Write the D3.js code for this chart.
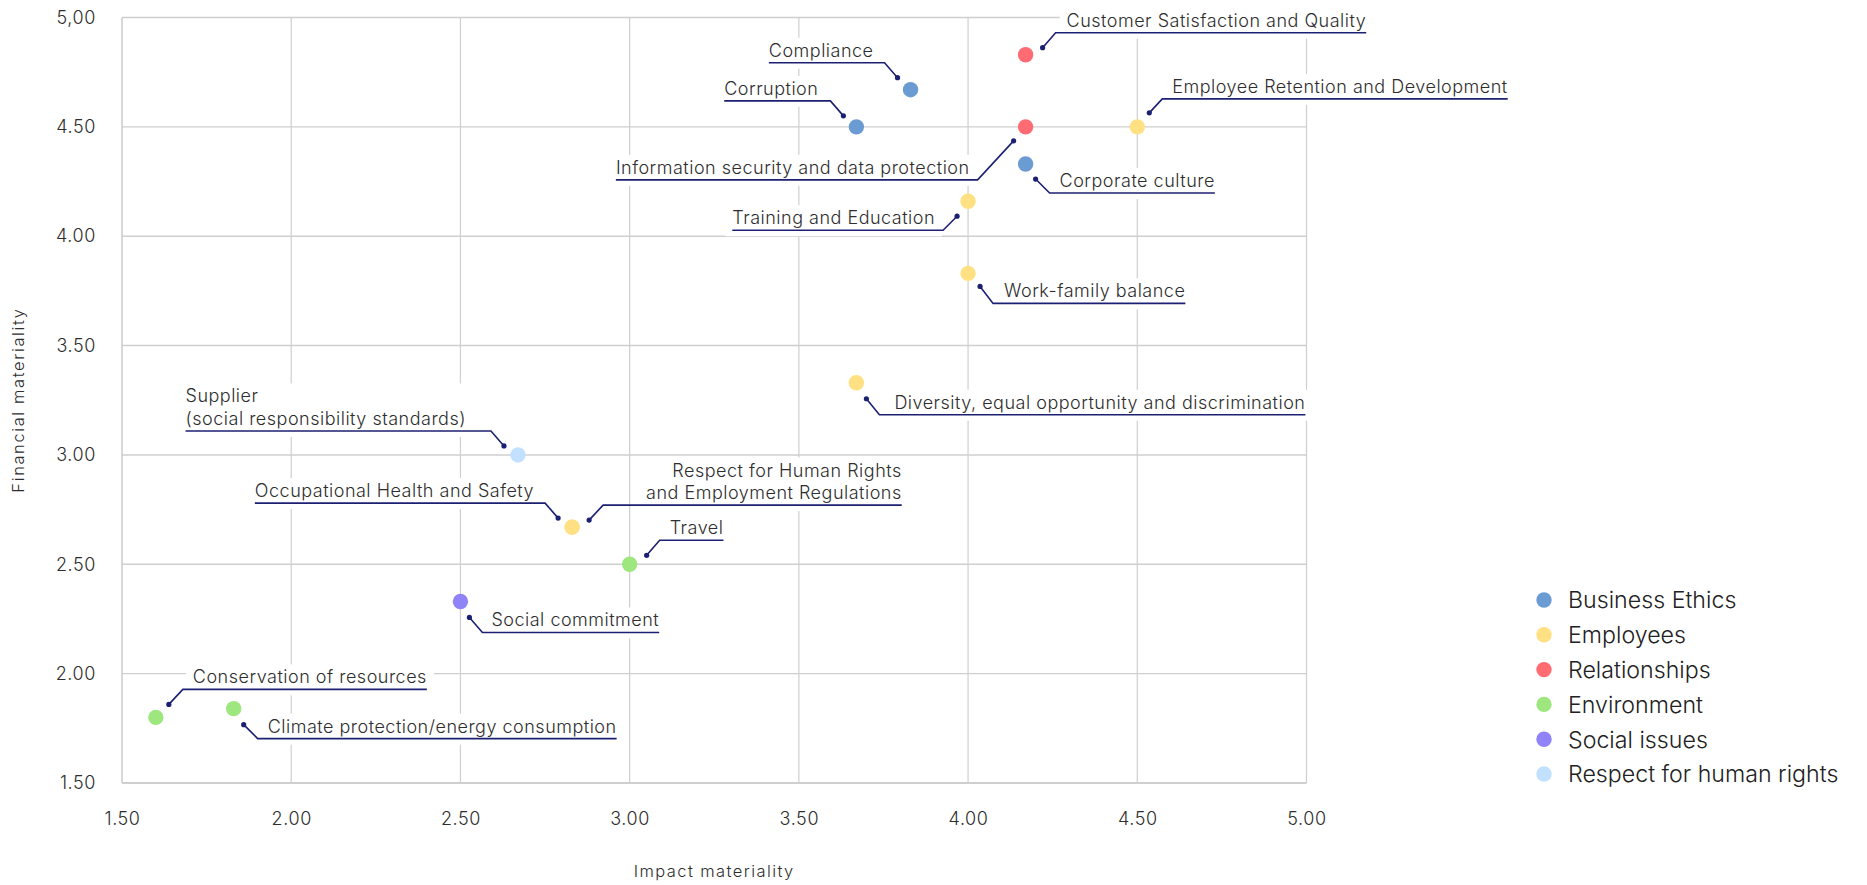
<!DOCTYPE html>
<html>
<head>
<meta charset="utf-8">
<script src="https://cdn.jsdelivr.net/npm/d3@7"></script>
<style>
  html, body { margin: 0; padding: 0; background: #fff; }
  svg text { font-family: Inter, "Noto Sans", sans-serif; font-weight: 300; }
</style>
</head>
<body>
<div id="chart"></div>
<script>
// Categories and their colours
const categories = ["Business Ethics", "Employees", "Relationships", "Environment", "Social issues", "Respect for human rights"];
const categoryColors = ["#6a9bd3", "#ffe083", "#ff6b72", "#9de77e", "#8f83f7", "#c2e0ff"];

// Material topics
const topics = [
  "Customer Satisfaction and Quality",
  "Compliance",
  "Corruption",
  "Information security and data protection",
  "Employee Retention and Development",
  "Corporate culture",
  "Training and Education",
  "Work-family balance",
  "Diversity, equal opportunity and discrimination",
  "Supplier\n(social responsibility standards)",
  "Occupational Health and Safety",
  "Respect for Human Rights\nand Employment Regulations",
  "Travel",
  "Social commitment",
  "Conservation of resources",
  "Climate protection/energy consumption"
];
const topicCategory = [
  "Relationships", "Business Ethics", "Business Ethics", "Relationships", "Employees", "Business Ethics",
  "Employees", "Employees", "Employees", "Respect for human rights", "Employees", "Employees",
  "Environment", "Social issues", "Environment", "Environment"
];
const impact    = [4.17, 3.83, 3.67, 4.17, 4.50, 4.17, 4.00, 4.00, 3.67, 2.67, 2.83, 2.83, 3.00, 2.50, 1.60, 1.83];
const financial = [4.83, 4.67, 4.50, 4.50, 4.50, 4.33, 4.16, 3.83, 3.33, 3.00, 2.67, 2.67, 2.50, 2.33, 1.80, 1.84];

// Axis ticks
const xTicks = [1.5, 2, 2.5, 3, 3.5, 4, 4.5, 5];
const xTickLabels = ["1.50", "2.00", "2.50", "3.00", "3.50", "4.00", "4.50", "5.00"];
const yTicks = [1.5, 2, 2.5, 3, 3.5, 4, 4.5, 5];
const yTickLabels = ["1.50", "2.00", "2.50", "3.00", "3.50", "4.00", "4.50", "5,00"];

// Leader layout in px, relative to the point: dot, elbow (near end of underline), side of text, gap text<->elbow
const leaders = {
  "Customer Satisfaction and Quality": { dot: [17, -7], elbow: [30, -22], side: "right", gap: 11 },
  "Compliance": { dot: [-13, -12], elbow: [-26, -27], side: "left", gap: 11 },
  "Corruption": { dot: [-13, -11], elbow: [-26, -26], side: "left", gap: 12 },
  "Information security and data protection": { dot: [-12, 14], elbow: [-48, 53], side: "left", gap: 8 },
  "Employee Retention and Development": { dot: [12, -14], elbow: [25, -28], side: "right", gap: 10 },
  "Corporate culture": { dot: [10, 15], elbow: [24, 29], side: "right", gap: 10 },
  "Training and Education": { dot: [-11, 15], elbow: [-25, 29], side: "left", gap: 8 },
  "Work-family balance": { dot: [12, 13], elbow: [25, 30], side: "right", gap: 11 },
  "Diversity, equal opportunity and discrimination": { dot: [10, 16], elbow: [23, 32], side: "right", gap: 15 },
  "Supplier\n(social responsibility standards)": { dot: [-14, -9], elbow: [-27, -24], side: "left", gap: 25 },
  "Occupational Health and Safety": { dot: [-14, -9], elbow: [-27, -24], side: "left", gap: 11 },
  "Respect for Human Rights\nand Employment Regulations": { dot: [17, -7], elbow: [31, -22], side: "right", gap: 43 },
  "Travel": { dot: [17, -9], elbow: [30, -24], side: "right", gap: 10 },
  "Social commitment": { dot: [9, 16], elbow: [22, 31], side: "right", gap: 9 },
  "Conservation of resources": { dot: [13, -13], elbow: [27, -28], side: "right", gap: 10 },
  "Climate protection/energy consumption": { dot: [10, 16], elbow: [24, 30], side: "right", gap: 10 }
};

const W = 1867, H = 885;
const plot = { left: 122, right: 1306.5, top: 17.5, bottom: 783 };
const ink = "#2e2e2e";
const navy = "#1c2072";
const gridColor = "#cfcfcf";

const x = d3.scaleLinear().domain([1.5, 5]).range([plot.left, plot.right]);
const y = d3.scaleLinear().domain([1.5, 5]).range([plot.bottom, plot.top]);
const color = d3.scaleOrdinal(categories, categoryColors);

const svg = d3.select("#chart").append("svg")
  .attr("width", W)
  .attr("height", H);

// Grid
const grid = svg.append("g");
grid.selectAll("line.vx")
  .data(xTicks)
  .join("line")
  .attr("class", "vx")
  .attr("x1", d => x(d)).attr("x2", d => x(d))
  .attr("y1", plot.top).attr("y2", plot.bottom)
  .attr("stroke", gridColor)
  .attr("stroke-width", d => d === 1.5 ? 1.6 : 1.2);
grid.selectAll("line.hy")
  .data(yTicks)
  .join("line")
  .attr("class", "hy")
  .attr("x1", plot.left).attr("x2", plot.right)
  .attr("y1", d => y(d)).attr("y2", d => y(d))
  .attr("stroke", gridColor)
  .attr("stroke-width", d => d === 1.5 ? 1.8 : 1.4);

// Axes (labels only)
const yAxis = svg.append("g")
  .attr("transform", `translate(${plot.left},0)`)
  .call(d3.axisLeft(y).tickValues(yTicks).tickSize(0).tickPadding(26)
    .tickFormat((d, i) => yTickLabels[i]));
const xAxis = svg.append("g")
  .attr("transform", `translate(0,${plot.bottom})`)
  .call(d3.axisBottom(x).tickValues(xTicks).tickSize(0).tickPadding(29)
    .tickFormat((d, i) => xTickLabels[i]));
[yAxis, xAxis].forEach(a => {
  a.select(".domain").remove();
  a.selectAll("text")
    .attr("font-family", "Inter, 'Noto Sans', sans-serif")
    .attr("font-size", 18)
    .attr("letter-spacing", 0.6)
    .attr("fill", ink);
});

// Axis titles
svg.append("text")
  .attr("transform", "translate(24,400) rotate(-90)")
  .attr("text-anchor", "middle")
  .attr("font-size", 16.5)
  .attr("letter-spacing", 1.6)
  .attr("fill", ink)
  .text("Financial materiality");
svg.append("text")
  .attr("x", (plot.left + plot.right) / 2)
  .attr("y", 876.5)
  .attr("text-anchor", "middle")
  .attr("font-size", 16.5)
  .attr("letter-spacing", 1.4)
  .attr("fill", ink)
  .text("Impact materiality");

// Labels with leader lines
const bgLayer = svg.append("g");
const lineLayer = svg.append("g");
const textLayer = svg.append("g");
const lineHeight = 22.5;

topics.forEach((t, i) => {
  const L = leaders[t];
  const px = x(impact[i]), py = y(financial[i]);
  const dx = px + L.dot[0], dy = py + L.dot[1];
  const ex = px + L.elbow[0], ey = py + L.elbow[1];
  const lines = t.split("\n");

  const txt = textLayer.append("text")
    .attr("font-size", 18)
    .attr("letter-spacing", 0.5)
    .attr("fill", ink);
  const spans = lines.map(s => txt.append("tspan").text(s));
  const widths = spans.map(s => s.node().getComputedTextLength());
  const maxW = d3.max(widths);

  let left, right, far;
  if (L.side === "right") {
    left = ex + L.gap; right = left + maxW; far = right;
  } else {
    right = ex - L.gap; left = right - maxW; far = left;
  }
  const n = lines.length;
  spans.forEach((s, k) => {
    const base = ey - 6 - (n - 1 - k) * lineHeight;
    if (L.side === "right" && n > 1) {
      s.attr("x", right).attr("y", base).attr("text-anchor", "end");
    } else {
      s.attr("x", left).attr("y", base);
    }
  });

  const top = ey - 6 - (n - 1) * lineHeight - 19;
  bgLayer.append("rect")
    .attr("x", left - 7)
    .attr("y", top)
    .attr("width", maxW + 14)
    .attr("height", ey + 6 - top)
    .attr("fill", "#fff");

  lineLayer.append("polyline")
    .attr("points", [[dx, dy], [ex, ey], [far, ey]].map(p => p.join(",")).join(" "))
    .attr("fill", "none")
    .attr("stroke", navy)
    .attr("stroke-width", 1.6);
  lineLayer.append("circle")
    .attr("cx", dx).attr("cy", dy).attr("r", 2.6)
    .attr("fill", navy);
});

// Points
svg.append("g")
  .selectAll("circle")
  .data(topics)
  .join("circle")
  .attr("cx", (d, i) => x(impact[i]))
  .attr("cy", (d, i) => y(financial[i]))
  .attr("r", 7.7)
  .attr("fill", (d, i) => color(topicCategory[i]));

// Legend
const legend = svg.append("g").attr("transform", "translate(1544,600)");
const item = legend.selectAll("g")
  .data(categories)
  .join("g")
  .attr("transform", (d, i) => `translate(0,${i * 34.8})`);
item.append("circle")
  .attr("r", 7.7)
  .attr("fill", d => color(d));
item.append("text")
  .attr("x", 24)
  .attr("dy", "0.36em")
  .attr("font-size", 23.2)
  .attr("fill", "#222")
  .text(d => d);
</script>
</body>
</html>
